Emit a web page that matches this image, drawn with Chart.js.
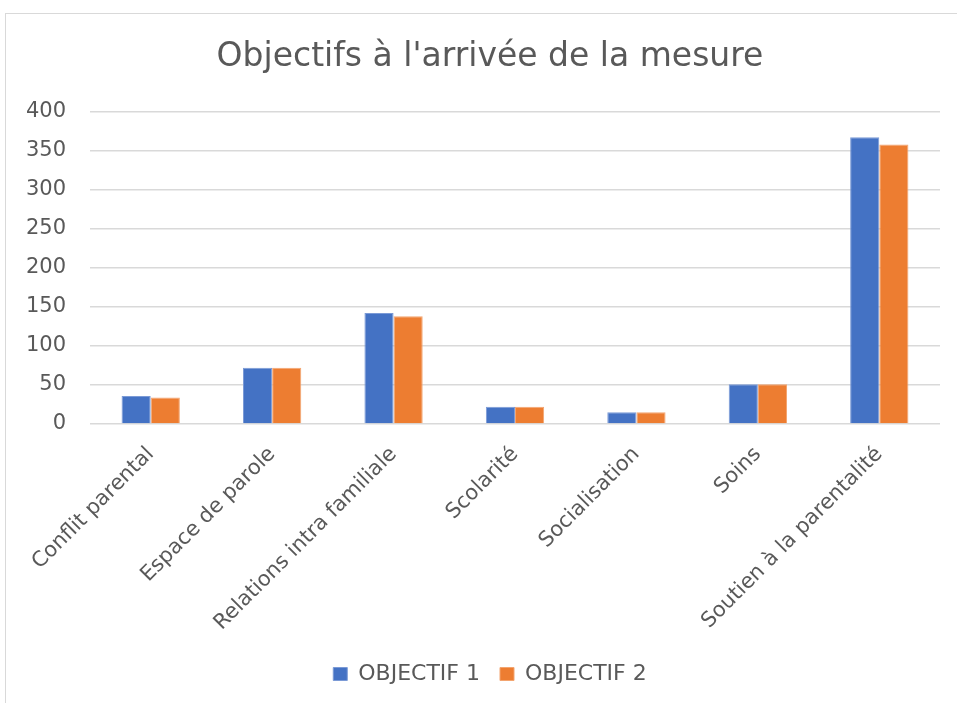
<!DOCTYPE html>
<html>
<head>
<meta charset="utf-8">
<script src="https://cdn.jsdelivr.net/npm/chart.js@4"></script>
<style>
  html, body { margin: 0; padding: 0; background: #fff; }
  #wrap { position: relative; width: 957px; height: 703px; }
  #cadre { position: absolute; left: 5px; top: 13px; width: 960px; height: 700px; border: 1px solid #d9d9d9; box-sizing: border-box; }
  canvas { position: absolute; left: 0; top: 0; }
</style>
</head>
<body>
<div id="wrap">
  <div id="cadre"></div>
  <canvas id="graphique" width="957" height="703"></canvas>
</div>
<script>
// Données du graphique
const categories = ["Conflit parental", "Espace de parole", "Relations intra familiale", "Scolarité", "Socialisation", "Soins", "Soutien à la parentalité"];
const objectif1 = [36, 72, 142, 22, 15, 51, 367];
const objectif2 = [34, 72, 138, 22, 15, 51, 358];
const nomsSeries = ["OBJECTIF 1", "OBJECTIF 2"];
const titre = "Objectifs à l'arrivée de la mesure";

const police = "'DejaVu Sans', sans-serif";
const gris = "#595959";

// décale titre et légende pour les centrer sur le cadre (comme Excel)
const centrage = {
  id: "centrage",
  afterLayout(chart) {
    chart.titleBlock.left = 40;
    chart.legend.left = 40;
  }
};

const ctx = document.getElementById("graphique").getContext("2d");
new Chart(ctx, {
  type: "bar",
  data: {
    labels: categories,
    datasets: [
      { label: nomsSeries[0], data: objectif1, backgroundColor: "#4472C4", borderColor: "#7b9ad6", borderWidth: 1 },
      { label: nomsSeries[1], data: objectif2, backgroundColor: "#ED7D31", borderColor: "#f3a570", borderWidth: 1 }
    ]
  },
  plugins: [centrage],
  options: {
    responsive: false,
    animation: false,
    layout: { padding: { left: 12, right: 17, top: 13, bottom: 8 } },
    datasets: { bar: { categoryPercentage: 0.48, barPercentage: 1 } },
    plugins: {
      title: {
        display: true,
        text: titre,
        color: gris,
        font: { family: police, size: 33, weight: "normal" },
        padding: { top: 25, bottom: 34 }
      },
      legend: {
        position: "bottom",
        labels: {
          color: gris,
          font: { family: police, size: 22 },
          boxWidth: 14,
          boxHeight: 13,
          padding: 20
        }
      },
      tooltip: { enabled: false }
    },
    scales: {
      x: {
        grid: { display: false },
        border: { display: false },
        ticks: {
          color: gris,
          font: { family: police, size: 21 },
          minRotation: 45,
          maxRotation: 45,
          padding: 10
        },
        afterFit: (axis) => { axis.height = 219; }
      },
      y: {
        min: 0,
        max: 400,
        grid: { color: "#d9d9d9", lineWidth: 1.5, drawTicks: false },
        border: { display: false },
        ticks: {
          stepSize: 50,
          color: gris,
          font: { family: police, size: 21 },
          padding: 24
        },
        afterFit: (axis) => { axis.width = 78; }
      }
    }
  }
});
</script>
</body>
</html>
